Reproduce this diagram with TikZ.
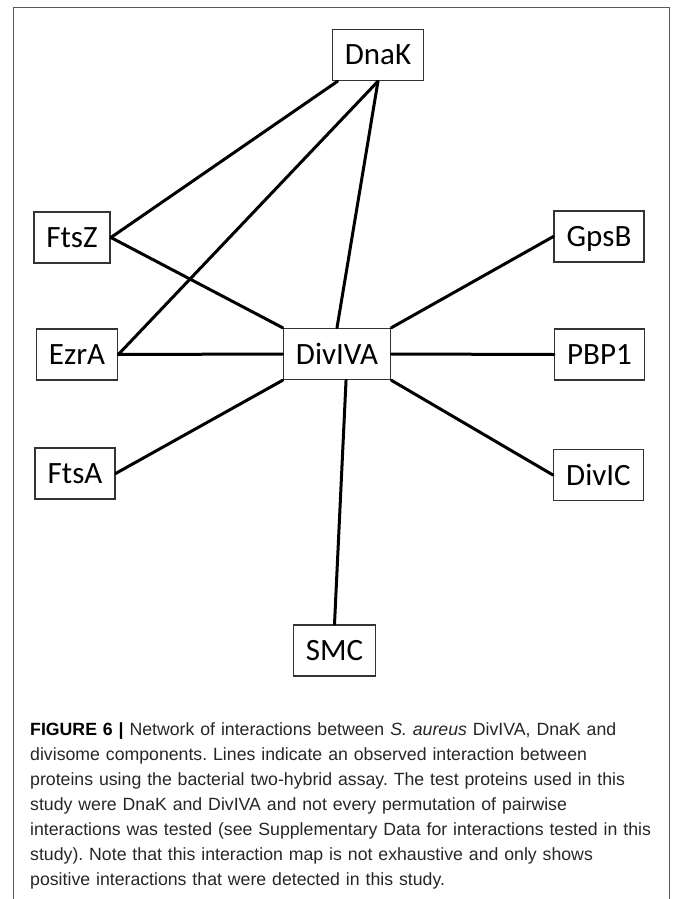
\documentclass[tikz,border=0pt]{standalone}
\usepackage{fontspec}
\usepackage{tikz}
\newfontfamily\protfont{Carlito}
\newfontfamily\capfont{Liberation Sans}
\frenchspacing

\begin{document}
\begin{tikzpicture}[x=1pt, y=-1pt,
    prot/.style={draw=black!80, line width=1.5pt, fill=white, minimum height=51pt,
      inner xsep=12.5pt, text height=20pt, text depth=0pt,
      font=\protfont\fontsize{31}{37}\selectfont},
    link/.style={line width=3pt, line cap=round}]
      \useasboundingbox (0,0) rectangle (673,899);
      % frame
      \draw[black!65, line width=1pt] (13,899) -- (13,8) -- (669,8) -- (669,899);

      \node[prot] (dnak) at (378,55) {DnaK};
      \node[prot] (ftsz) at (72,237.5) {FtsZ};
      \node[prot] (gpsb) at (599,236.5) {GpsB};
      \node[prot] (ezra) at (77,354.5) {EzrA};
      \node[prot] (diviva) at (337,354) {DivIVA};
      \node[prot] (pbp1) at (599.5,354.5) {PBP1};
      \node[prot] (ftsa) at (75,473.5) {FtsA};
      \node[prot] (divic) at (598.5,475) {DivIC};
      \node[prot] (smc) at (334.5,650.5) {SMC};

      \draw[link] (dnak.-147) -- (ftsz.east);
      \draw[link] (dnak.south) -- (ezra.east);
      \draw[link] (dnak.south) -- (diviva.north);
      \draw[link] (ftsz.east) -- (diviva.north west);
      \draw[link] (ezra.east) -- (diviva.west);
      \draw[link] (ftsa.east) -- (diviva.south west);
      \draw[link] (gpsb.west) -- (diviva.north east);
      \draw[link] (pbp1.west) -- (diviva.east);
      \draw[link] (divic.west) -- (diviva.south east);
      \draw[link] (diviva.-71) -- (smc.north);

      % caption
      \node[anchor=base west, inner sep=0pt, text width=640pt, align=left, text=black!85,
        font=\capfont\fontsize{17.7}{25}\selectfont] (caption) at (30,735)
        {\textcolor{black}{\textbf{FIGURE 6 |}} Network of interactions between \textit{S. aureus} DivIVA, DnaK and\\
        divisome components. Lines indicate an observed interaction between\\
        proteins using the bacterial two-hybrid assay. The test proteins used in this\\
        study were DnaK and DivIVA and not every permutation of pairwise\\
        interactions was tested (see Supplementary Data for interactions tested in this\\
        study). Note that this interaction map is not exhaustive and only shows\\
        positive interactions that were detected in this study.};
    \end{tikzpicture}
\end{document}
